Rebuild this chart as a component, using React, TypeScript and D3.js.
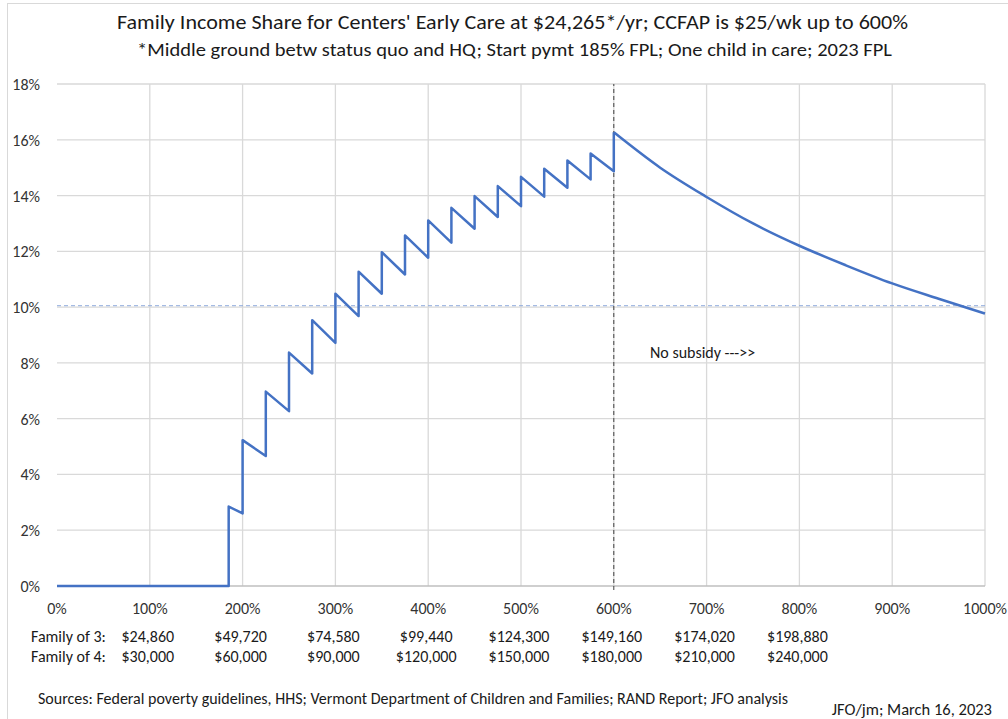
import React, { useEffect, useRef } from "react";
import * as d3 from "d3";

// FPL percent where the family's payment steps up
const stepFpl = [185, 200, 225, 250, 275, 300, 325, 350, 375, 400, 425, 450, 475, 500, 525, 550, 575, 600];
// income share just before each step (%)
const shareBefore = [0, 2.6, 4.66, 6.27, 7.62, 8.72, 9.68, 10.48, 11.17, 11.77, 12.31, 12.81, 13.23, 13.62, 13.96, 14.28, 14.58, 14.87];
// income share just after each step (%)
const shareAfter = [2.85, 5.23, 6.97, 8.37, 9.53, 10.48, 11.27, 11.97, 12.57, 13.11, 13.56, 13.98, 14.34, 14.67, 14.96, 15.26, 15.51, 16.27];
// no subsidy tail
const tailFpl = [650, 700, 750, 800, 850, 900, 950, 1000];
const tailShare = [15.0, 13.95, 13.0, 12.2, 11.5, 10.85, 10.3, 9.77];

const xTicks = [0, 100, 200, 300, 400, 500, 600, 700, 800, 900, 1000];
const yTicks = [0, 2, 4, 6, 8, 10, 12, 14, 16, 18];
const family3 = ["$24,860", "$49,720", "$74,580", "$99,440", "$124,300", "$149,160", "$174,020", "$198,880"];
const family4 = ["$30,000", "$60,000", "$90,000", "$120,000", "$150,000", "$180,000", "$210,000", "$240,000"];
const affordLine = 10.05;
const cutoffFpl = 600;

const W = 1008, H = 719;
const FONT = "Carlito, Calibri, Lato, sans-serif";

export default function App() {
  const ref = useRef<SVGSVGElement>(null);

  useEffect(() => {
    document.body.style.margin = "0";
    const svg = d3.select(ref.current);
    svg.selectAll("*").remove();

    const x = d3.scaleLinear().domain([0, 1000]).range([57, 985]);
    const y = d3.scaleLinear().domain([0, 18]).range([586, 84]);

    svg.append("rect").attr("x", 7.5).attr("y", 3.5).attr("width", W).attr("height", H)
      .attr("fill", "white").attr("stroke", "#d9d9d9");

    svg.append("text").attr("x", 512.5).attr("y", 29).attr("text-anchor", "middle")
      .attr("textLength", 791).attr("lengthAdjust", "spacingAndGlyphs")
      .style("font-family", FONT).style("font-size", "20px").attr("fill", "#1a1a1a")
      .text("Family Income Share for Centers' Early Care at $24,265*/yr; CCFAP is $25/wk up to 600%");
    svg.append("text").attr("x", 514.5).attr("y", 56).attr("text-anchor", "middle")
      .attr("textLength", 755).attr("lengthAdjust", "spacingAndGlyphs")
      .style("font-family", FONT).style("font-size", "18px").attr("fill", "#1a1a1a")
      .text("*Middle ground betw status quo and HQ; Start pymt 185% FPL; One child in care; 2023 FPL");

    const g = svg.append("g");
    g.selectAll(".hgrid").data(yTicks.slice(1)).join("line").attr("class", "hgrid")
      .attr("x1", x(0)).attr("x2", x(1000)).attr("y1", d => y(d)).attr("y2", d => y(d))
      .attr("stroke", "#d9d9d9").attr("stroke-width", 1.3);
    g.selectAll(".vgrid").data(xTicks.slice(1)).join("line").attr("class", "vgrid")
      .attr("y1", y(0)).attr("y2", y(18)).attr("x1", d => x(d)).attr("x2", d => x(d))
      .attr("stroke", "#d9d9d9").attr("stroke-width", 1.3);
    g.append("line").attr("x1", x(0)).attr("x2", x(1000)).attr("y1", y(0)).attr("y2", y(0))
      .attr("stroke", "#bfbfbf").attr("stroke-width", 1.3);

    g.selectAll(".ylab").data(yTicks).join("text").attr("class", "ylab")
      .attr("x", 40).attr("y", d => y(d) + 6).attr("text-anchor", "end")
      .style("font-family", FONT).style("font-size", "16px").attr("fill", "#333")
      .text(d => d + "%");
    g.selectAll(".xlab").data(xTicks).join("text").attr("class", "xlab")
      .attr("x", d => x(d)).attr("y", 614).attr("text-anchor", "middle")
      .style("font-family", FONT).style("font-size", "16px").attr("fill", "#333")
      .text(d => d + "%");

    // reference lines
    g.append("line").attr("x1", x(0)).attr("x2", x(1000)).attr("y1", y(affordLine)).attr("y2", y(affordLine))
      .attr("stroke", "#8faadc").attr("stroke-width", 1).attr("stroke-dasharray", "4,3");
    g.append("line").attr("x1", x(cutoffFpl)).attr("x2", x(cutoffFpl)).attr("y1", y(0) + 4).attr("y2", y(18))
      .attr("stroke", "#404040").attr("stroke-width", 1).attr("stroke-dasharray", "4,3");

    // sawtooth up to the 600% cutoff
    const pts: [number, number][] = [[0, 0]];
    stepFpl.forEach((f, i) => { pts.push([f, shareBefore[i]]); pts.push([f, shareAfter[i]]); });
    const line = d3.line<[number, number]>().x(d => x(d[0])).y(d => y(d[1]));
    g.append("path").attr("d", line(pts)).attr("fill", "none")
      .attr("stroke", "#4472c4").attr("stroke-width", 2.5).attr("stroke-linejoin", "round");

    // smooth tail after the cutoff
    const tail: [number, number][] = [pts[pts.length - 1]];
    tailFpl.forEach((f, i) => tail.push([f, tailShare[i]]));
    g.append("path").attr("d", line.curve(d3.curveMonotoneX)(tail)).attr("fill", "none")
      .attr("stroke", "#4472c4").attr("stroke-width", 2.5).attr("stroke-linejoin", "round");

    g.append("text").attr("x", 650).attr("y", 358)
      .style("font-family", FONT).style("font-size", "16px").attr("fill", "#1a1a1a")
      .text("No subsidy --->>");

    const rows = [["Family of 3:", family3, 642], ["Family of 4:", family4, 662]] as const;
    rows.forEach(([lab, vals, yy]) => {
      g.append("text").attr("x", 31).attr("y", yy)
        .style("font-family", FONT).style("font-size", "16px").attr("fill", "#1a1a1a").text(lab);
      g.selectAll(null).data(vals as readonly string[]).join("text")
        .attr("x", (d, i) => x(xTicks[i + 1]) - 2).attr("y", yy).attr("text-anchor", "middle")
        .style("font-family", FONT).style("font-size", "16px").attr("fill", "#1a1a1a").text(d => d);
    });

    svg.append("text").attr("x", 38).attr("y", 704)
      .style("font-family", FONT).style("font-size", "16px").attr("fill", "#1a1a1a")
      .text("Sources: Federal poverty guidelines, HHS; Vermont Department of Children and Families; RAND Report; JFO analysis");
    svg.append("text").attr("x", 992).attr("y", 715).attr("text-anchor", "end")
      .style("font-family", FONT).style("font-size", "16.5px").attr("fill", "#1a1a1a")
      .text("JFO/jm; March 16, 2023");
  }, []);

  return <svg ref={ref} width={W} height={H} style={{ display: "block" }} />;
}
